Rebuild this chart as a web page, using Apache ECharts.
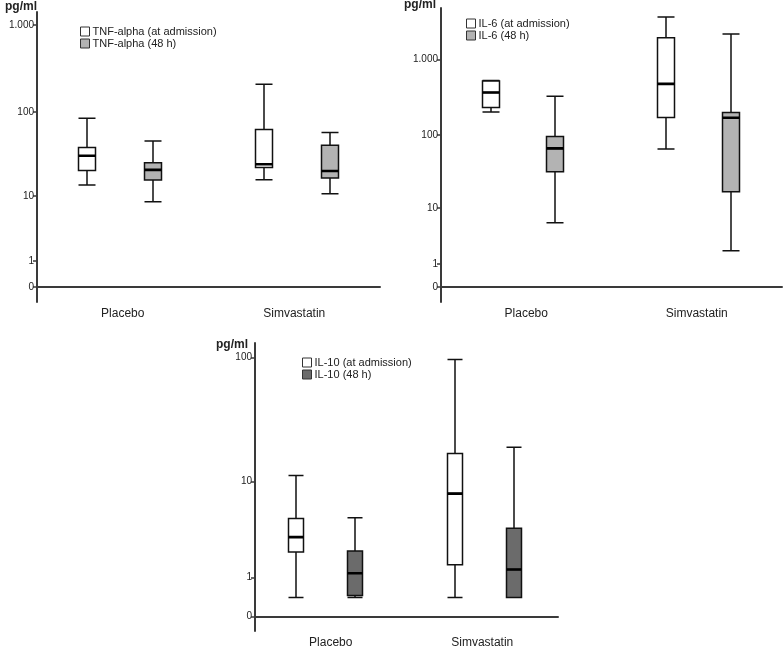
<!DOCTYPE html>
<html>
<head>
<meta charset="utf-8">
<script src="https://cdn.jsdelivr.net/npm/echarts@6/dist/echarts.min.js"></script>
<style>html,body{margin:0;padding:0;background:#fff}#c{width:784px;height:648px}</style>
</head>
<body>
<div id="c"></div>
<script>
// ---- data (pg/ml), box order: [min, Q1, median, Q3, max] ----
const groups = ['Placebo', 'Simvastatin'];
const tnfAdmission = [[13.8, 20.6, 31, 38.6, 85], [16, 22.4, 24.5, 63, 209]];
const tnf48h       = [[8.5, 15.9, 21, 25.6, 46], [10.7, 16.8, 20.4, 41, 58]];
const il6Admission = [[201, 231, 365, 516, 526], [65, 170, 473, 1927, 3606]];
const il648h       = [[6, 32, 66, 95, 324], [2, 17, 169, 198, 2153]];
const il10Admission = [[0.4, 2.15, 3.1, 4.7, 11.3], [0.4, 1.5, 7.9, 17.2, 96]];
const il1048h       = [[0.4, 0.45, 1.15, 2.2, 4.8], [0.4, 0.4, 1.3, 3.8, 19.3]];
const ticksTop = [0, 1, 10, 100, 1000];
const ticksIL10 = [0, 1, 10, 100];
const namesTNF = ['TNF-alpha (at admission)', 'TNF-alpha (48 h)'];
const namesIL6 = ['IL-6 (at admission)', 'IL-6 (48 h)'];
const namesIL10 = ['IL-10 (at admission)', 'IL-10 (48 h)'];

// scale used by the original: log10(x + 1)
const f = v => Math.log10(v + 1);
const fmt = v => {
  const n = Math.round(Math.pow(10, v) - 1);
  return String(n).replace(/\B(?=(\d{3})+(?!\d))/g, '.');
};
const FONT = 'Liberation Sans, Arial, sans-serif';
const AX = '#3a3a3a';

const grids = [], xAxes = [], yAxes = [], series = [], legends = [];

function hiddenGrid(p, s) {
  const hi = grids.length;
  grids.push({left: s.left, top: p.top, width: s.width, height: p.height, outerBoundsMode: 'none'});
  xAxes.push({gridIndex: hi, type: 'category', data: groups, boundaryGap: false, show: false});
  yAxes.push({gridIndex: hi, type: 'value', min: p.min, max: p.max, show: false});
  return hi;
}

function panel(p) {
  // visible axes grid
  const gi = grids.length;
  grids.push({left: p.left, top: p.top, width: p.width, height: p.height, outerBoundsMode: 'none'});
  xAxes.push({
    gridIndex: gi, type: 'category', data: groups, boundaryGap: true,
    axisLine: {lineStyle: {color: AX, width: 2}},
    axisTick: {alignWithLabel: true, length: 4, lineStyle: {color: AX, width: 1.5}},
    axisLabel: {fontFamily: FONT, fontSize: 12, color: '#222', margin: 6},
    splitLine: {show: false}
  });
  const tv = p.ticks.map(f);
  yAxes.push({
    gridIndex: gi, type: 'value', min: p.min, max: p.max,
    name: 'pg/ml', nameLocation: 'end', nameGap: p.nameGap,
    nameTextStyle: {fontFamily: FONT, fontWeight: 'bold', fontSize: 12, color: '#222',
      align: 'right', verticalAlign: 'middle', padding: [0, p.namePad, 0, 0]},
    axisLine: {show: true, lineStyle: {color: AX, width: 2}},
    axisTick: {show: true, customValues: tv, length: 4, lineStyle: {color: AX, width: 1.5}},
    axisLabel: {customValues: tv, formatter: fmt, fontFamily: FONT, fontSize: 10, color: '#222', margin: 3},
    splitLine: {show: false}
  });
  // hidden grids for the box series, placed at the box centres (one series per grid)
  p.sets.forEach(s => {
    const hi = hiddenGrid(p, s);
    series.push({
      type: 'boxplot', name: s.name, xAxisIndex: hi, yAxisIndex: hi,
      boxWidth: [p.boxW, p.boxW],
      data: s.data.map(r => r.map(f)),
      itemStyle: {color: s.fill, borderColor: '#111', borderWidth: 1.5},
      emphasis: {disabled: true}, silent: true
    });
    const mi = hiddenGrid(p, s);
    // thicker median line
    series.push({
      type: 'boxplot', name: s.name + ' median', xAxisIndex: mi, yAxisIndex: mi,
      boxWidth: [p.boxW, p.boxW],
      data: s.data.map(r => [r[2], r[2], r[2], r[2], r[2]].map(f)),
      itemStyle: {color: 'rgba(0,0,0,0)', borderColor: '#000', borderWidth: 2.6},
      emphasis: {disabled: true}, silent: true
    });
  });
  legends.push({
    data: p.sets.map(s => ({name: s.name,
      itemStyle: {color: s.fill, borderColor: '#333', borderWidth: 1}})),
    left: p.legLeft, top: p.legTop, orient: 'vertical', padding: 0,
    icon: 'rect', itemWidth: 9, itemHeight: 9, itemGap: 1, selectedMode: false,
    textStyle: {fontFamily: FONT, fontSize: 11, color: '#222', padding: [0, 0, 0, -2]}
  });
}

panel({left: 37, top: 12, width: 343, height: 290, min: -0.17, max: 3.15, ticks: ticksTop,
  nameGap: 5, namePad: 0, boxW: 17, legLeft: 80, legTop: 26,
  sets: [
    {name: namesTNF[0], data: tnfAdmission, fill: '#ffffff', left: 87, width: 177},
    {name: namesTNF[1], data: tnf48h, fill: '#b3b3b3', left: 153, width: 177}
  ]});
panel({left: 441, top: 8, width: 341, height: 294, min: -0.198, max: 3.676, ticks: ticksTop,
  nameGap: 3, namePad: 5, boxW: 17, legLeft: 466, legTop: 18,
  sets: [
    {name: namesIL6[0], data: il6Admission, fill: '#ffffff', left: 491, width: 175},
    {name: namesIL6[1], data: il648h, fill: '#b3b3b3', left: 555, width: 176}
  ]});
panel({left: 255, top: 343, width: 303, height: 288, min: -0.114, max: 2.115, ticks: ticksIL10,
  nameGap: -2, namePad: 7, boxW: 15, legLeft: 302, legTop: 357,
  sets: [
    {name: namesIL10[0], data: il10Admission, fill: '#ffffff', left: 296, width: 159},
    {name: namesIL10[1], data: il1048h, fill: '#6b6b6b', left: 355, width: 159}
  ]});

const chart = echarts.init(document.getElementById('c'), null, {renderer: 'canvas'});
chart.setOption({
  animation: false,
  backgroundColor: '#ffffff',
  grid: grids, xAxis: xAxes, yAxis: yAxes, series: series, legend: legends
});
</script>
</body>
</html>
